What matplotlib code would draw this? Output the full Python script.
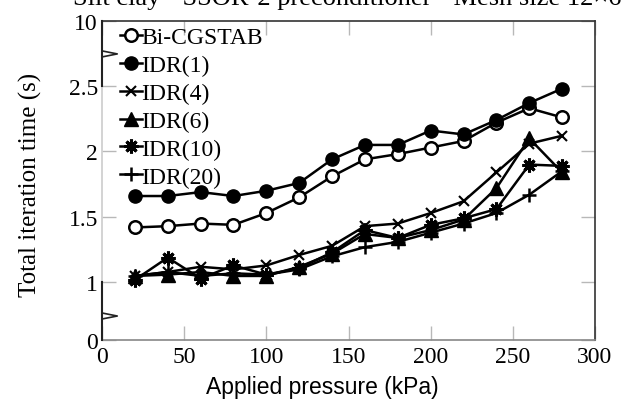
import numpy as np
import matplotlib
matplotlib.use("Agg")
import matplotlib.pyplot as plt
import matplotlib.transforms as mtransforms

# ---- data ----
pressure = [20, 40, 60, 80, 100, 120, 140, 160, 180, 200, 220, 240, 260, 280]
bicgstab = [1.42, 1.43, 1.45, 1.44, 1.53, 1.65, 1.81, 1.94, 1.98, 2.03, 2.08, 2.22, 2.33, 2.26]
idr1 = [1.66, 1.66, 1.69, 1.66, 1.70, 1.76, 1.94, 2.05, 2.05, 2.16, 2.13, 2.24, 2.37, 2.48]
idr4 = [1.05, 1.08, 1.12, 1.10, 1.13, 1.21, 1.28, 1.43, 1.45, 1.53, 1.62, 1.84, 2.06, 2.12]
idr6 = [1.05, 1.06, 1.08, 1.05, 1.05, 1.12, 1.22, 1.37, 1.34, 1.40, 1.48, 1.72, 2.10, 1.84]
idr10 = [1.02, 1.19, 1.03, 1.13, 1.06, 1.11, 1.23, 1.40, 1.34, 1.44, 1.49, 1.56, 1.90, 1.89]
idr20 = [1.05, 1.08, 1.05, 1.07, 1.06, 1.10, 1.20, 1.27, 1.31, 1.38, 1.45, 1.53, 1.67, 1.85]
labels = ["Bi-CGSTAB", "IDR(1)", "IDR(4)", "IDR(6)", "IDR(10)", "IDR(20)"]
xticks = [0, 50, 100, 150, 200, 250, 300]
yticks = [0, 1, 1.5, 2, 2.5, 10]
ytick_labels = ["0", "1", "1.5", "2", "2.5", "10"]
title = "Silt clay - SSOR-2 preconditioner - Mesh size 12\u00d76"

# broken y scale (piecewise linear)
yk = [-100, 0, 1, 2.5, 10, 100]
uk = [0.561 - 100 * 0.439, 0.561, 1.0, 2.5, 2.996, 2.996 + 90 * 0.0661]

def fwd(y):
    return np.interp(y, yk, uk)

def inv(u):
    return np.interp(u, uk, yk)

plt.rcParams['font.family'] = ['Liberation Serif', 'DejaVu Serif']

fig = plt.figure(figsize=(6.28, 4.10), dpi=100)
ax = fig.add_axes([102 / 628, 1 - 341 / 410, (595 - 102) / 628, (341 - 22) / 410])
ax.set_yscale('function', functions=(fwd, inv))

series = [bicgstab, idr1, idr4, idr6, idr10, idr20]
styles = [
    dict(marker='o', mfc='white', ms=9, mew=1.8),
    dict(marker='o', mfc='black', ms=9.5),
    dict(marker='x', ms=7, mew=1.5),
    dict(marker='^', ms=9.5),
    dict(marker=(8, 2, 0), ms=10, mew=2.2),
    dict(marker='+', ms=10, mew=1.8),
]
for vals, lab, st in zip(series, labels, styles):
    ax.plot(pressure, vals, color='black', lw=1.8, mec='black', label=lab, **st)

ax.set_xlim(0, 300)
ax.set_ylim(0, 10)
ax.set_xticks(xticks)
ax.set_yticks(yticks)
ax.set_yticklabels(ytick_labels)
ax.tick_params(direction='in', length=10, width=1, color='#b8b8b8',
               labelsize=17, top=True, right=True)
ax.tick_params(axis='y', pad=3)
ax.tick_params(axis='x', pad=4)

ax.spines['left'].set_visible(False)
for s in ['top', 'right']:
    ax.spines[s].set_color('#333333')
    ax.spines[s].set_linewidth(1.2)
ax.spines['bottom'].set_color('#888888')
ax.spines['bottom'].set_linewidth(1.2)

# custom left spine with break marks
tr = mtransforms.blended_transform_factory(ax.transAxes, ax.transData)
ax.plot([0, 0], [1, 2.5], color='#cccccc', lw=1.2, transform=tr, clip_on=False, zorder=5)
ax.plot([0, 0], [0, 1], color='#222222', lw=1.5, transform=tr, clip_on=False, zorder=5)
ax.plot([0, 0], [2.5, 10], color='#222222', lw=1.5, transform=tr, clip_on=False, zorder=5)
for yb_lo, yb_mid, yb_hi in [(0.365, 0.417, 0.47), (5.85, 6.2, 6.55)]:
    ax.plot([0, 0.031, 0], [yb_hi, yb_mid, yb_lo], color='#222222', lw=1.2,
            transform=tr, clip_on=False, zorder=5)

ax.set_ylabel("Total iteration time (s)", fontsize=18)
ax.yaxis.set_label_coords(-0.122, 0.49)
ax.set_xlabel("Applied pressure (kPa)", fontsize=16.5, family=['Liberation Sans', 'DejaVu Sans'])
ax.xaxis.set_label_coords(0.446, -0.11)
ax.xaxis.get_label().set_va('top')

leg = ax.legend(loc='upper left', frameon=False, fontsize=17, handlelength=0.9,
                handletextpad=0.0, labelspacing=0.27, borderaxespad=0.0,
                bbox_to_anchor=(0.018, 1.012))

fig.text(73 / 628, 1 - 4.5 / 410, title, fontsize=19, va='baseline', ha='left')

fig.savefig("out.png", dpi=100)
